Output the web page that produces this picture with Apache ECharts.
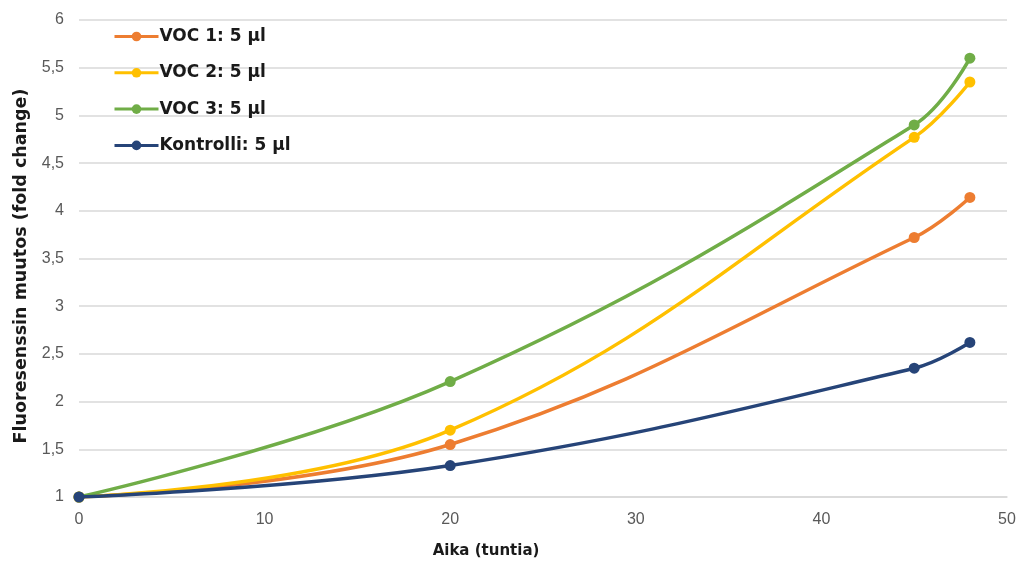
<!DOCTYPE html>
<html>
<head>
<meta charset="utf-8">
<script src="https://cdn.jsdelivr.net/npm/echarts@6/dist/echarts.min.js"></script>
<style>
  html, body { margin: 0; padding: 0; background: #ffffff; }
  #chart { width: 1019px; height: 567px; }
</style>
</head>
<body>
<div id="chart"></div>
<script>
// Measurement times (hours)
const hours = [0, 20, 45, 48];

// Fluorescence fold change per treatment
const voc1 = [1.00, 1.55, 3.72, 4.14];
const voc2 = [1.00, 1.70, 4.77, 5.35];
const voc3 = [1.00, 2.21, 4.90, 5.60];
const kontrolli = [1.00, 1.33, 2.35, 2.62];

const seriesNames = ['VOC 1: 5 µl', 'VOC 2: 5 µl', 'VOC 3: 5 µl', 'Kontrolli: 5 µl'];
const seriesValues = [voc1, voc2, voc3, kontrolli];
const seriesColors = ['#ED7D31', '#FFC000', '#70AD47', '#264478'];

const xTitle = 'Aika (tuntia)';
const yTitle = 'Fluoresenssin muutos (fold change)';

const boldFont = 'DejaVu Sans, Liberation Sans, sans-serif';

const chart = echarts.init(document.getElementById('chart'), null, { renderer: 'canvas' });

const series = seriesNames.map((name, i) => ({
  name: name,
  type: 'line',
  data: hours.map((h, j) => [h, seriesValues[i][j]]),
  smooth: 0.4,
  symbol: 'circle',
  symbolSize: 11,
  lineStyle: { width: 3.5, color: seriesColors[i] },
  itemStyle: { color: seriesColors[i] },
  z: 2 + i
}));

chart.setOption({
  animation: false,
  backgroundColor: '#ffffff',
  textStyle: { fontFamily: 'Liberation Sans, Arial, sans-serif' },
  grid: {
    left: 79, right: 12, top: 20, bottom: 70,
    containLabel: false,
    outerBoundsMode: 'none'
  },
  legend: {
    orient: 'vertical',
    left: 108,
    top: 23,
    itemWidth: 44,
    itemHeight: 12,
    itemGap: 19.3,
    data: seriesNames,
    lineStyle: { width: 3 },
    textStyle: {
      fontFamily: boldFont,
      fontSize: 17,
      lineHeight: 16,
      fontWeight: 'bold',
      color: '#1a1a1a',
      padding: [0, 0, 0, -4]
    }
  },
  xAxis: {
    type: 'value',
    min: 0,
    max: 50,
    interval: 10,
    name: xTitle,
    nameLocation: 'middle',
    nameGap: 47,
    nameTextStyle: {
      fontFamily: boldFont,
      fontSize: 15,
      fontWeight: 'bold',
      color: '#1a1a1a',
      padding: [0, 114, 0, 0]
    },
    axisLine: { show: true, lineStyle: { color: '#d9d9d9', width: 1.5 } },
    axisTick: { show: false },
    axisLabel: { fontSize: 16, color: '#595959', margin: 15 },
    splitLine: { show: false }
  },
  yAxis: {
    type: 'value',
    min: 1,
    max: 6,
    interval: 0.5,
    name: yTitle,
    nameLocation: 'middle',
    nameGap: 44,
    nameTextStyle: {
      fontFamily: boldFont,
      fontSize: 17.5,
      fontWeight: 'bold',
      color: '#1a1a1a',
      padding: [0, 15, 0, 0]
    },
    axisLine: { show: false },
    axisTick: { show: false },
    axisLabel: {
      fontSize: 16,
      color: '#595959',
      margin: 15,
      formatter: v => String(v).replace('.', ',')
    },
    splitLine: { show: true, lineStyle: { color: '#d9d9d9', width: 1.5 } }
  },
  series: series
});
</script>
</body>
</html>
